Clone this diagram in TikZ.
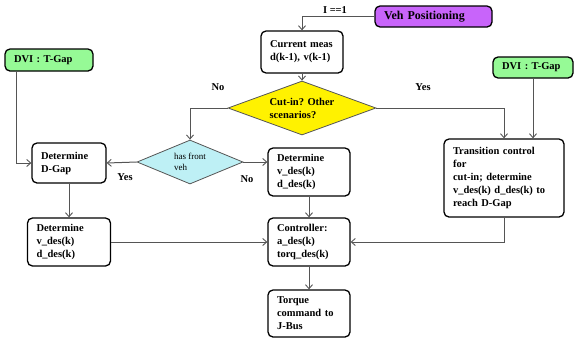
\documentclass[tikz,border=0pt]{standalone}
\usepackage{fontspec}
\setmainfont{Liberation Serif}
\usetikzlibrary{shapes.geometric,arrows.meta}
\definecolor{vehpurple}{RGB}{200,100,250}
\definecolor{dvigreen}{RGB}{150,250,150}
\definecolor{hfcyan}{RGB}{190,240,245}
\definecolor{linegray}{RGB}{85,85,85}
\tikzset{
  boxfont/.style={font=\bfseries\fontsize{10.5}{13}\selectfont},
  box/.style={draw=black, line width=1.3pt, rounded corners=5pt, fill=white, boxfont,
    align=left, inner xsep=9pt, inner ysep=2pt},
  dec/.style={draw=linegray, line width=0.8pt, diamond, inner sep=0pt, align=left},
  conn/.style={draw=linegray, line width=1pt, -{Straight Barb[length=4pt,width=7pt,line width=0.9pt]}},
  lbl/.style={boxfont, inner sep=0pt}
}
\begin{document}
\begin{tikzpicture}[x=1pt,y=-1pt]
\useasboundingbox (0,0) rectangle (577,338);
% nodes
\node[box, fill=vehpurple, minimum width=117pt, minimum height=21pt, text width=99pt,
  font=\bfseries\fontsize{12}{14}\selectfont] (veh) at (433.5,16.5) {Veh Positioning};
\node[box, minimum width=82pt, minimum height=42pt, text width=64pt] (cur) at (302,52) {Current meas\\d(k-1), v(k-1)};
\node[dec, fill=yellow, boxfont, aspect=2.7, minimum width=148pt, minimum height=54pt] (cut) at (302,108) {Cut-in? Other\\scenarios?};
\node[box, fill=dvigreen, minimum width=88pt, minimum height=22pt, text width=70pt] (dvil) at (49,60) {DVI : T-Gap};
\node[box, fill=dvigreen, minimum width=80pt, minimum height=21pt, text width=62pt] (dvir) at (533,67.5) {DVI : T-Gap};
\node[dec, fill=hfcyan, font=\fontsize{9}{11}\selectfont, aspect=2.4, minimum width=106pt, minimum height=44pt] (hf) at (190,162) {has front\\veh};
\node[box, minimum width=74pt, minimum height=40pt, text width=56pt] (dgap) at (69,163) {Determine\\D-Gap};
\node[box, minimum width=82pt, minimum height=48pt, text width=64pt] (mid) at (309,172) {Determine\\v\_des(k)\\d\_des(k)};
\node[box, minimum width=120pt, minimum height=78pt, text width=102pt] (trans) at (504,178) {Transition control\\for\\cut-in; determine\\v\_des(k) d\_des(k) to\\reach D-Gap};
\node[box, minimum width=83pt, minimum height=48pt, text width=65pt] (ldet) at (69,242) {Determine\\v\_des(k)\\d\_des(k)};
\node[box, minimum width=82pt, minimum height=48pt, text width=64pt] (ctrl) at (309,242) {Controller:\\a\_des(k)\\torq\_des(k)};
\node[box, minimum width=82pt, minimum height=47pt, text width=64pt] (torq) at (309,313.5) {Torque\\command to\\J-Bus};
% labels
\node[lbl] (l1) at (335,10) {I ==1};
\node[lbl] (lno1) at (218,87) {No};
\node[lbl] (lyes1) at (423,87) {Yes};
\node[lbl] (lyes2) at (125,177) {Yes};
\node[lbl] (lno2) at (247,179) {No};
% connectors
\draw[conn] (veh.west) -| (cur.north);
\draw[conn] (cur.south) -- (cut.north);
\draw[conn] (cut.west) -| (hf.north);
\draw[conn] (cut.east) -| (trans.north);
\draw[conn] (dvir.south) -- (dvir.south |- trans.north);
\coordinate (dls) at ([xshift=12pt]dvil.south west);
\draw[conn] (dls) |- (dgap.west);
\draw[conn] (hf.west) -- (dgap.east);
\draw[conn] (hf.east) -- (hf.east -| mid.west);
\draw[conn] (dgap.south) -- (ldet.north);
\draw[conn] (mid.south) -- (ctrl.north);
\draw[conn] (ldet.east) -- (ctrl.west);
\draw[conn] (trans.south) |- (ctrl.east);
\draw[conn] (ctrl.south) -- (torq.north);
\end{tikzpicture}
\end{document}
